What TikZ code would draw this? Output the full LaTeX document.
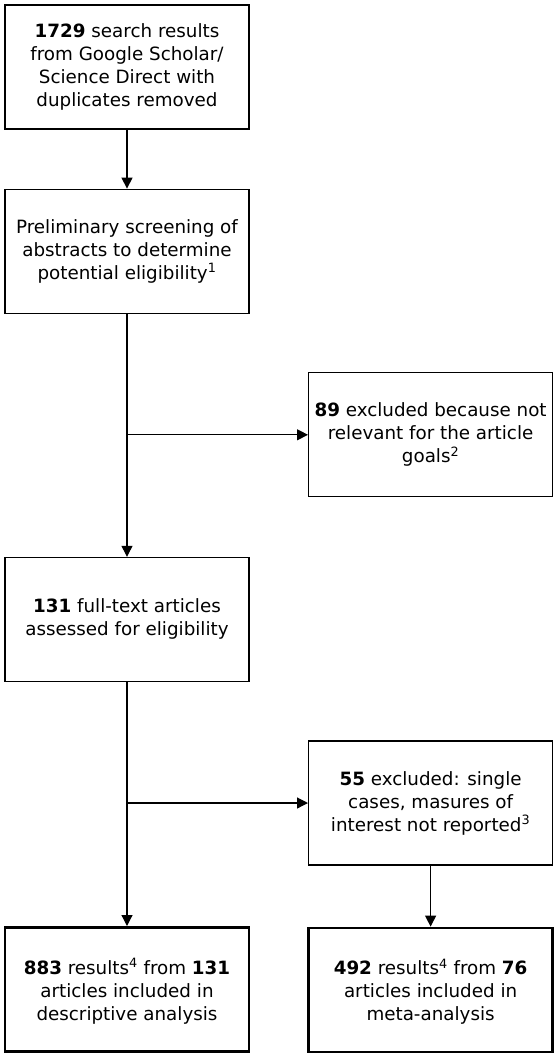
\documentclass[tikz,border=0pt]{standalone}
\usepackage{fontspec}
\setmainfont{DejaVu Sans}
\usetikzlibrary{arrows.meta,positioning}

\begin{document}
\begin{tikzpicture}[->, >={Triangle[length=11pt,width=11pt]}, x=1pt, y=-1pt, line width=1.2pt]
\tikzstyle{every node}=[font=\fontsize{18.3}{23}\selectfont]
\tikzstyle{box}=[draw=black, line width=1.2pt, rectangle, align=center, minimum width=244pt, minimum height=124pt, inner sep=0pt]
\tikzstyle{final}=[box, line width=2.6pt, text depth=-4pt]
\useasboundingbox (0,0) rectangle (559,1055);

\node[box]    (S1) at (127,67) {\textbf{1729} search results\\from Google Scholar/\\Science Direct with\\duplicates removed};
\node[box]    (S2)[below=59pt of S1]  {Preliminary screening of\\abstracts to determine\\potential eligibility\textsuperscript{1}};
\coordinate[below=121pt of S2]  (J1);
\node[box]    (E1)[right=181pt of J1]  {\textbf{89} excluded because not\\relevant for the article\\goals\textsuperscript{2}};

\node[box]    (S4)[below=243pt of S2]  {\textbf{131} full-text articles\\assessed for eligibility};
\coordinate[below=121pt of S4]  (J2);
\node[box]    (E2)[right=181pt of J2]  {\textbf{55} excluded: single\\cases, masures of\\interest not reported\textsuperscript{3}};

\node[final]  (S6)[below=244pt of S4]  {\textbf{883} results\textsuperscript{4} from \textbf{131}\\articles included in\\descriptive analysis};
\node[final]  (R2)[below=61pt of E2]   {\textbf{492} results\textsuperscript{4} from \textbf{76}\\articles included in\\meta-analysis};

\path
(S1) edge     node{}         (S2)
(S2) edge     node{}         (S4)
(J1) edge     node{}         (E1)
(S4) edge     node{}         (S6)
(J2) edge     node{}         (E2)
(E2) edge     node{}         (R2);
\end{tikzpicture}
\end{document}
